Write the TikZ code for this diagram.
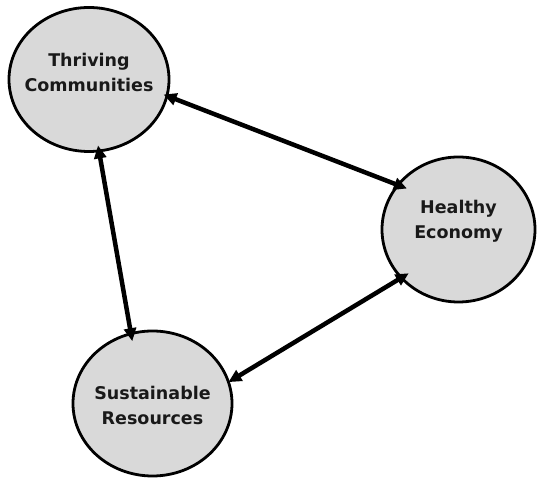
\documentclass[tikz,border=0pt]{standalone}
\usepackage{fontspec}
\setmainfont{DejaVu Sans}
\usepackage{tikz}
\usetikzlibrary{shapes, arrows.meta, positioning}

\definecolor{bubblegray}{RGB}{217,217,217}

\begin{document}
\begin{tikzpicture}[x=1pt,y=1pt,
  bubble/.style={draw,ellipse,fill=bubblegray,line width=2.8pt,inner sep=0pt},
  txt/.style={align=center,font=\fontsize{17.5}{25}\selectfont\bfseries,text=black!90},
  link/.style={line width=4.5pt,{Triangle[length=13pt,width=12pt]}-{Triangle[length=13pt,width=12pt]}}]
\useasboundingbox (0,0) rectangle (538,478);

% the three circles
\node[bubble,minimum width=160pt,minimum height=144pt] (Thr) at (89,398.5) {};
\node[bubble,minimum width=153pt,minimum height=145pt] (Hea) at (458.5,248.5) {};
\node[bubble,minimum width=159pt,minimum height=145pt] (Sus) at (152.5,74.5) {};

\node[txt] (ThrT) at ([yshift=7pt]Thr.center) {Thriving\\Communities};
\node[txt] (HeaT) at ([yshift=8pt]Hea.center) {Healthy\\Economy};
\node[txt] (SusT) at ([yshift=-2pt]Sus.center) {Sustainable\\Resources};

% links between them
\draw[link,shorten <=-5pt,shorten >=-11pt] (Thr.-12.4) -- (Hea.144.4);
\draw[link,shorten <=-7pt,shorten >=-9pt] (Thr.-82.8) -- (Sus.107.4);
\draw[link,shorten <=-10pt,shorten >=-1.5pt] (Hea.220) -- (Sus.16.2);
\end{tikzpicture}
\end{document}
